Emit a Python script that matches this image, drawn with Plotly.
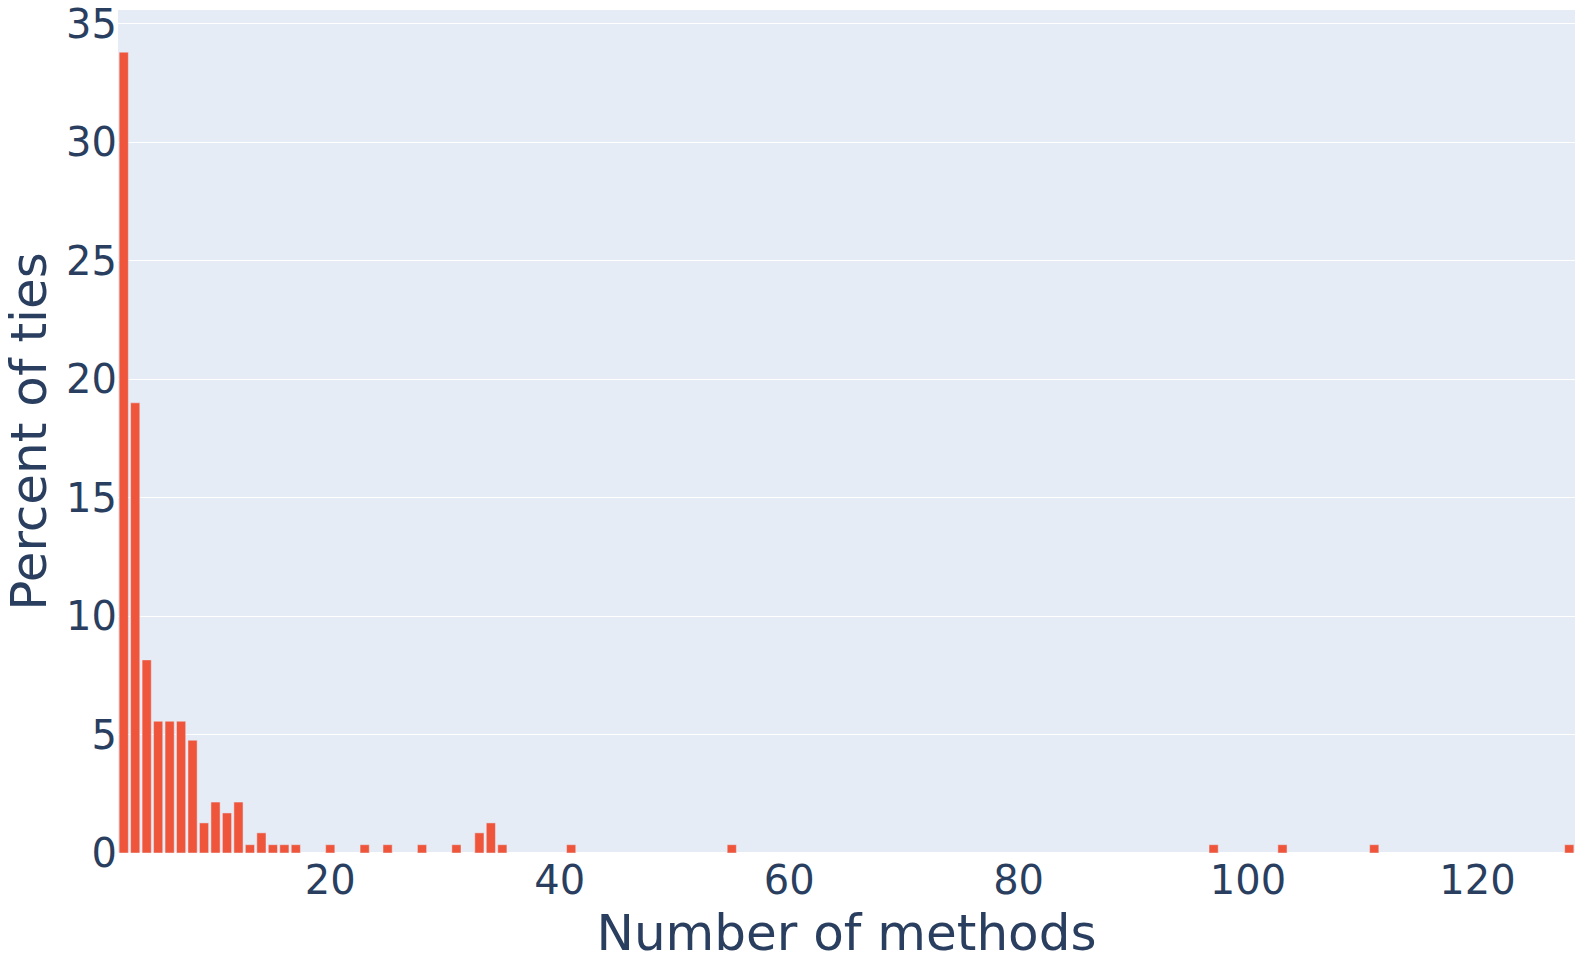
import plotly.graph_objects as go

# number of methods tied -> percent of ties
num_methods = [2, 3, 4, 5, 6, 7, 8, 9, 10, 11, 12, 13, 14, 15, 16, 17,
               20, 23, 25, 28, 31, 33, 34, 35, 41, 55, 97, 103, 111, 128]
pct_ties = [33.8, 19.0, 8.15, 5.56, 5.56, 5.56, 4.76, 1.27, 2.15, 1.69, 2.15, 0.35,
            0.85, 0.35, 0.35, 0.35,
            0.35, 0.35, 0.35, 0.35, 0.35, 0.85, 1.27, 0.35, 0.35, 0.35, 0.35, 0.35,
            0.35, 0.35]

fig = go.Figure(
    go.Bar(
        x=num_methods,
        y=pct_ties,
        marker_color="#EF553B",
    )
)

fig.update_layout(
    template="plotly",
    width=1590,
    height=962,
    font=dict(family="Verdana, DejaVu Sans, sans-serif", size=40, color="#2a3f5f"),
    margin=dict(l=118, r=15, t=10, b=109),
    showlegend=False,
)
fig.update_xaxes(automargin=False,
                 title=dict(text="Number of methods", font=dict(size=50), standoff=16))
fig.update_yaxes(automargin=False, ticklabeloverflow="allow",
                 title=dict(text="Percent of ties", font=dict(size=50), standoff=8))

# drop the default page margin so the figure sits at the window corner
fig.write_html(
    "out.html",
    config={"displayModeBar": False},
    post_script="document.body.style.margin='0';",
)
